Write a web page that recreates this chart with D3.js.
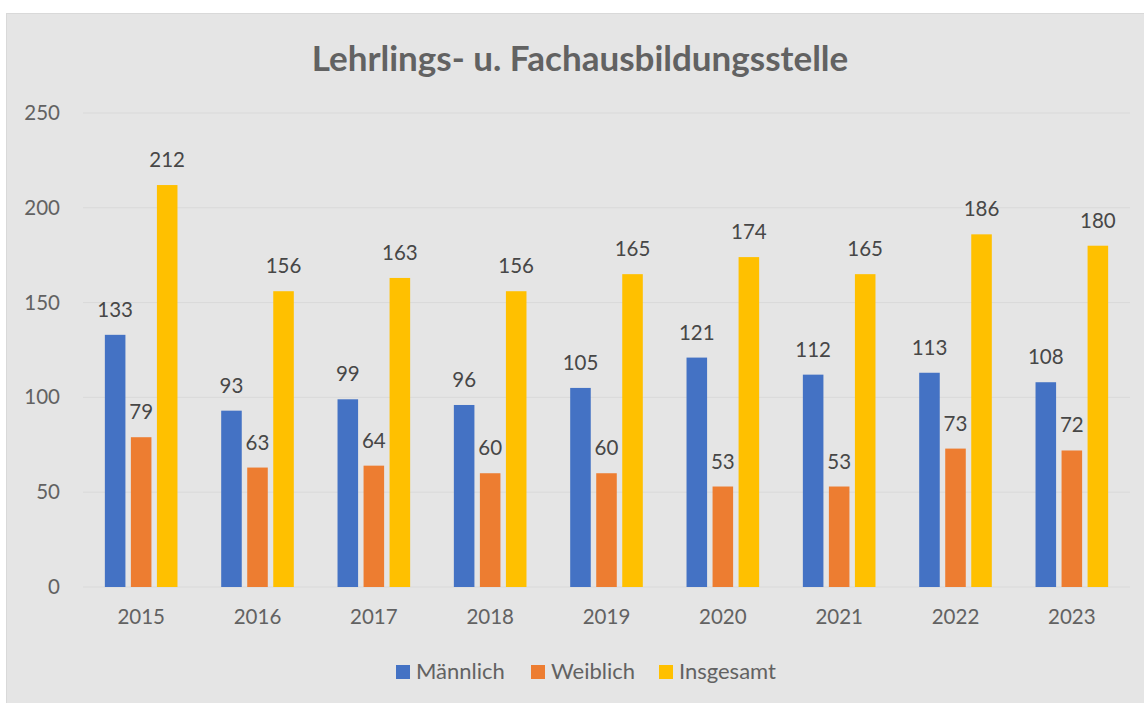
<!DOCTYPE html>
<html><head><meta charset="utf-8">
<script src="https://cdn.jsdelivr.net/npm/d3@7"></script>
<style>html,body{margin:0;padding:0;background:#fff;}svg{display:block;}</style>
</head><body>
<script>
const years = ["2015","2016","2017","2018","2019","2020","2021","2022","2023"];
const maennlich = [133, 93, 99, 96, 105, 121, 112, 113, 108];
const weiblich = [79, 63, 64, 60, 60, 53, 53, 73, 72];
const insgesamt = [212, 156, 163, 156, 165, 174, 165, 186, 180];
const seriesNames = ["Männlich", "Weiblich", "Insgesamt"];
const yTicks = [0, 50, 100, 150, 200, 250];
const title = "Lehrlings- u. Fachausbildungsstelle";

const colors = ["#4472C4", "#ED7D31", "#FFC000"];
const seriesVals = [maennlich, weiblich, insgesamt];
const W = 1144, H = 703;
const font = "Lato, 'Open Sans', sans-serif";
const txt = "#626262";

const svg = d3.select("body").append("svg").attr("width", W).attr("height", H);
svg.append("rect").attr("x", 6.5).attr("y", 13.5).attr("width", W - 6).attr("height", H - 13)
  .attr("fill", "#e5e5e5").attr("stroke", "#d9d9d9").attr("stroke-width", 1);

const x0 = 83, x1 = 1130, yTop = 113, yBot = 587;
const x = d3.scaleBand().domain(years).range([x0, x1]).paddingInner(0).paddingOuter(0);
const y = d3.scaleLinear().domain([0, 250]).range([yBot, yTop]);
const inner = d3.scaleBand().domain(seriesNames).range([0, x.bandwidth()]).paddingInner(0.21).paddingOuter(0.84);

// gridlines
svg.append("g").selectAll("line").data(yTicks).join("line")
  .attr("x1", x0).attr("x2", x1).attr("y1", d => y(d)).attr("y2", d => y(d))
  .attr("stroke", "#d9d9d9").attr("stroke-width", 1);

// y axis labels
const yAxis = d3.axisLeft(y).tickValues(yTicks).tickSize(0).tickPadding(0);
const ya = svg.append("g").attr("transform", "translate(60,0)").call(yAxis);
ya.select(".domain").remove();
ya.selectAll("text").attr("font-family", font).attr("font-size", 20.5).attr("fill", txt);

// x axis labels
const xAxis = d3.axisBottom(x).tickSize(0).tickPadding(0);
const xa = svg.append("g").attr("transform", `translate(0,${yBot + 22})`).call(xAxis);
xa.select(".domain").remove();
xa.selectAll("text").attr("font-family", font).attr("font-size", 20.5).attr("fill", txt);

// bars
const data = [];
years.forEach((yr, i) => seriesNames.forEach((s, j) => data.push({yr, s, j, v: seriesVals[j][i]})));
svg.append("g").selectAll("rect").data(data).join("rect")
  .attr("x", d => x(d.yr) + inner(d.s)).attr("width", inner.bandwidth())
  .attr("y", d => y(d.v)).attr("height", d => y(0) - y(d.v))
  .attr("fill", d => colors[d.j]);

// labels
svg.append("g").selectAll("text").data(data).join("text")
  .attr("x", d => x(d.yr) + inner(d.s) + inner.bandwidth() / 2)
  .attr("y", d => y(d.v) - 18)
  .attr("text-anchor", "middle")
  .attr("font-family", font).attr("font-size", 20.5).attr("fill", "#474747")
  .text(d => d.v);

// title
svg.append("text").attr("x", 580).attr("y", 71).attr("text-anchor", "middle")
  .attr("font-family", font).attr("font-weight", "bold").attr("font-size", 35).attr("fill", txt)
  .text(title);

// legend
const legX = [396, 531, 659];
const lg = svg.append("g").selectAll("g").data(seriesNames).join("g")
  .attr("transform", (d, i) => `translate(${legX[i]},665)`);
lg.append("rect").attr("width", 14).attr("height", 14).attr("fill", (d, i) => colors[i]);
lg.append("text").attr("x", 20).attr("y", 14).attr("font-family", font).attr("font-size", 22)
  .attr("fill", txt).text(d => d);
</script>
</body></html>
